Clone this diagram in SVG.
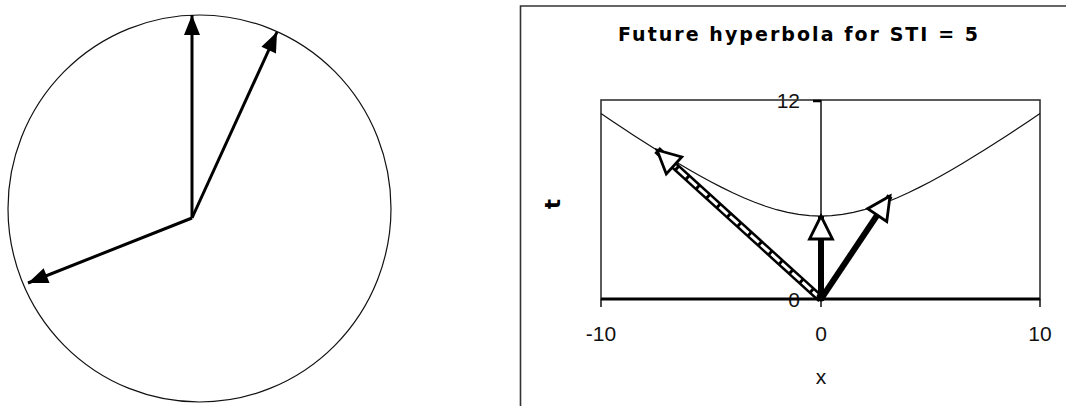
<svg xmlns="http://www.w3.org/2000/svg" width="1066" height="406" viewBox="0 0 1066 406">
<style>
.lbl{font-family:"Liberation Sans",Arial,sans-serif;font-size:21px;fill:#111}
.ttl{font-family:"DejaVu Sans",Verdana,sans-serif;font-size:19px;font-weight:bold;fill:#000}
.thin{fill:none;stroke:#111;stroke-width:1.2}
.box{fill:none;stroke:#333;stroke-width:1.6}
.shaft{fill:none;stroke:#000;stroke-width:3}
.fat{fill:none;stroke:#000;stroke-width:6}
</style>
<defs>
<marker id="solid" markerUnits="userSpaceOnUse" viewBox="-22 -10 24 20" markerWidth="24" markerHeight="20" refX="0" refY="0" orient="auto">
<path d="M0,0 L-20,-8 L-20,8 Z" fill="#000"/>
</marker>
<marker id="hollow" markerUnits="userSpaceOnUse" viewBox="-27 -15 30 30" markerWidth="30" markerHeight="30" refX="0" refY="0" orient="auto">
<path d="M0,0 L-23,-11.5 L-23,11.5 Z" fill="#fff" stroke="#000" stroke-width="2.8" stroke-linejoin="miter"/>
</marker>
</defs>
<rect width="1066" height="406" fill="#fff"/>

<g id="circle-diagram">
<ellipse cx="199.5" cy="208.5" rx="191.5" ry="193.5" class="thin"/>
</g>
<g id="circle-connectors">
<line x1="192" y1="218" x2="192" y2="15" class="shaft" marker-end="url(#solid)"/>
<line x1="192" y1="218" x2="277" y2="32" class="shaft" marker-end="url(#solid)"/>
<line x1="192" y1="218" x2="28" y2="283" class="shaft" marker-end="url(#solid)"/>
</g>

<g id="chart-panel">
<path d="M520.5,406 V6 H1066" class="box"/>
<text class="ttl" x="618" y="41" textLength="360" lengthAdjust="spacing">Future hyperbola for STI = 5</text>
<text class="ttl" style="font-size:21px" transform="translate(560,204) rotate(-90)" text-anchor="middle">t</text>
<text class="lbl" x="800" y="108" text-anchor="end">12</text>
<text class="lbl" x="800" y="307" text-anchor="end">0</text>
<text class="lbl" x="601" y="341" text-anchor="middle">-10</text>
<text class="lbl" x="821" y="341" text-anchor="middle">0</text>
<text class="lbl" x="1040" y="341" text-anchor="middle">10</text>
<text class="lbl" x="821" y="384" text-anchor="middle">x</text>
<rect x="601" y="100" width="439" height="199" class="box"/>
<line x1="821" y1="100" x2="821" y2="299" stroke="#111" stroke-width="1.5"/>
<line x1="813" y1="101" x2="821" y2="101" stroke="#000" stroke-width="2.5"/>
<line x1="601" y1="299" x2="1040" y2="299" stroke="#000" stroke-width="3.2"/>
<path d="M601,299 v8 M821,299 v8 M1040,299 v8" stroke="#111" stroke-width="1.5"/>
<polyline class="thin" points="601,113.6 612,121 623,128.3 633.9,135.5 644.9,142.6 655.9,149.5 666.9,156.3 677.8,163 688.8,169.5 699.8,175.7 710.8,181.7 721.7,187.4 732.7,192.8 743.7,197.8 754.7,202.3 765.6,206.3 776.6,209.7 787.6,212.4 798.6,214.4 809.5,215.7 820.5,216.1 831.5,215.7 842.5,214.4 853.4,212.4 864.4,209.7 875.4,206.3 886.4,202.3 897.3,197.8 908.3,192.8 919.3,187.4 930.3,181.7 941.2,175.7 952.2,169.5 963.2,163 974.1,156.3 985.1,149.5 996.1,142.6 1007.1,135.5 1018,128.3 1029,121 1040,113.6"/>
</g>
<g id="chart-connectors">
<line x1="821" y1="299" x2="657" y2="150" stroke="#000" stroke-width="8"/>
<line x1="821" y1="299" x2="657" y2="150" stroke="#fff" stroke-width="3" stroke-dasharray="11 3" marker-end="url(#hollow)"/>
<line x1="821" y1="299" x2="821" y2="216" class="fat" marker-end="url(#hollow)"/>
<line x1="821" y1="299" x2="890" y2="196" class="fat" marker-end="url(#hollow)"/>
<circle cx="821" cy="297" r="4.5" fill="#000"/>
</g>
</svg>
